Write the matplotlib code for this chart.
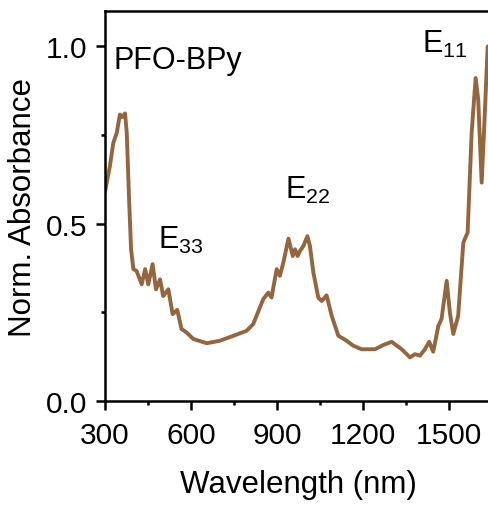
import matplotlib
matplotlib.use('Agg')
import matplotlib.pyplot as plt
from matplotlib.ticker import MultipleLocator

plt.rcParams['font.family'] = ['Liberation Sans', 'DejaVu Sans']
plt.rcParams['mathtext.default'] = 'regular'

# Spectrum
wavelength = [300, 317, 329, 341, 352, 360, 370, 376, 384, 391, 399,
              410, 428, 440, 451, 466, 478, 492, 503, 521, 536, 552,
              567, 585, 608, 655, 701, 748, 794, 817, 852, 870, 881,
              899, 910, 922, 940, 955, 963, 972, 980, 992, 1006, 1015,
              1027, 1044, 1056, 1073, 1091, 1114, 1143, 1166, 1195, 1242,
              1271, 1300, 1335, 1364, 1381, 1399, 1416, 1431, 1445, 1463,
              1474, 1492, 1503, 1515, 1532, 1550, 1565, 1579, 1593, 1602,
              1614, 1622, 1635]
absorbance = [0.59, 0.662, 0.728, 0.756, 0.808, 0.801, 0.811, 0.756, 0.569, 0.428, 0.372,
              0.367, 0.329, 0.372, 0.329, 0.386, 0.315, 0.343, 0.296, 0.315, 0.245, 0.257,
              0.203, 0.193, 0.175, 0.163, 0.170, 0.184, 0.198, 0.217, 0.287, 0.306, 0.292,
              0.372, 0.353, 0.390, 0.458, 0.409, 0.428, 0.409, 0.423, 0.437, 0.465, 0.437,
              0.362, 0.292, 0.282, 0.298, 0.240, 0.184, 0.170, 0.156, 0.146, 0.146,
              0.158, 0.167, 0.146, 0.123, 0.132, 0.128, 0.146, 0.167, 0.139, 0.212,
              0.231, 0.339, 0.250, 0.189, 0.240, 0.447, 0.475, 0.756, 0.911, 0.850,
              0.616, 0.756, 1.0]

peak_labels = ['E$_{33}$', 'E$_{22}$', 'E$_{11}$']
peak_x = [486, 928, 1405]
peak_y = [0.432, 0.573, 0.986]

fig = plt.figure(figsize=(4.89, 5.06), dpi=100)
ax = fig.add_axes([0.2147, 0.2055, 0.7914, 0.7708])

ax.plot(wavelength, absorbance, color='#94663F', lw=2.8,
        solid_joinstyle='round', solid_capstyle='round')

for lab, x, y in zip(peak_labels, peak_x, peak_y):
    ax.text(x, y, lab, fontsize=22)
ax.text(329, 0.94, 'PFO-BPy', fontsize=22)

ax.set_xlim(300, 1650)
ax.set_ylim(0, 1.1)
ax.xaxis.set_major_locator(MultipleLocator(300))
ax.xaxis.set_minor_locator(MultipleLocator(150))
ax.yaxis.set_major_locator(MultipleLocator(0.5))
ax.yaxis.set_minor_locator(MultipleLocator(0.25))
ax.tick_params(which='major', direction='out', length=6.5, width=1.8, labelsize=21.5)
ax.tick_params(which='minor', direction='out', length=3, width=1.8)
ax.tick_params(axis='x', which='major', pad=8)
ax.tick_params(axis='y', which='major', pad=6)
for s in ax.spines.values():
    s.set_linewidth(1.8)
ax.spines['right'].set_visible(False)

ax.set_xlabel('Wavelength (nm)', fontsize=22.5, labelpad=14)
ax.set_ylabel('Norm. Absorbance', fontsize=22.5, labelpad=6)

fig.savefig('out.png', dpi=100)
